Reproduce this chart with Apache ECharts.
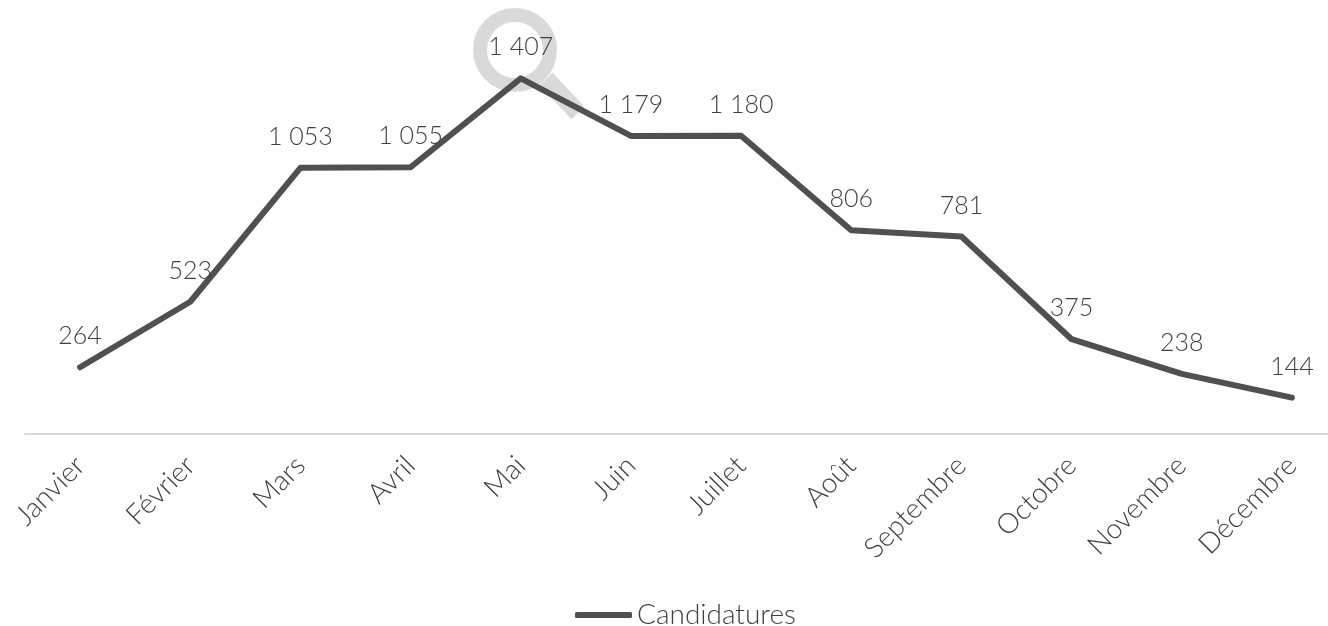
<!DOCTYPE html>
<html>
<head>
<meta charset="utf-8">
<style>
  html, body { margin: 0; padding: 0; background: #fff; overflow: hidden; width: 1328px; height: 626px; }
  #chart { width: 1347px; height: 626px; }
</style>
<script src="https://cdn.jsdelivr.net/npm/echarts@6/dist/echarts.min.js"></script>
</head>
<body>
<div id="chart"></div>
<script>
const months = ['Janvier', 'Février', 'Mars', 'Avril', 'Mai', 'Juin', 'Juillet', 'Août', 'Septembre', 'Octobre', 'Novembre', 'Décembre']
const candidatures = [264, 523, 1053, 1055, 1407, 1179, 1180, 806, 781, 375, 238, 144]

const textColor = '#404040'
const fontName = 'Lato'

const chart = echarts.init(document.getElementById('chart'), null, { renderer: 'canvas' })

chart.setOption({
  animation: false,
  backgroundColor: '#ffffff',
  grid: { left: 25, top: 29.5, right: 0, bottom: 192, containLabel: false },
  legend: {
    show: true,
    left: 570,
    top: 596,
    itemWidth: 57,
    itemHeight: 6,
    itemGap: 2,
    icon: 'roundRect',
    textStyle: { color: textColor, fontFamily: fontName, fontWeight: 300, fontSize: 28 }
  },
  xAxis: {
    type: 'category',
    data: months,
    axisTick: { show: false },
    axisLine: { lineStyle: { color: '#d9d9d9', width: 2 } },
    axisLabel: { rotate: 45, interval: 0, color: textColor, fontFamily: fontName, fontWeight: 300, fontSize: 28, margin: 27 }
  },
  yAxis: {
    type: 'value',
    min: 0,
    max: 1600,
    show: false
  },
  graphic: [
    // loupe behind the peak
    {
      type: 'line', z: 0, silent: true,
      shape: { x1: 546, y1: 79, x2: 578, y2: 113 },
      style: { stroke: '#d9d9d9', lineWidth: 18 }
    },
    {
      type: 'circle', z: 0, silent: true,
      shape: { cx: 515, cy: 50, r: 35 },
      style: { fill: '#ffffff', stroke: '#d9d9d9', lineWidth: 14 }
    }
  ],
  series: [
    {
      name: 'Candidatures',
      type: 'line',
      data: candidatures,
      z: 5,
      showSymbol: true,
      symbol: 'circle',
      symbolSize: 1,
      lineStyle: { color: '#505050', width: 6, cap: 'round', join: 'round' },
      itemStyle: { color: '#505050' },
      labelLayout: { hideOverlap: false },
      label: {
        show: true,
        position: 'top',
        distance: 18,
        color: textColor,
        fontFamily: fontName,
        fontWeight: 300,
        fontSize: 25,
        formatter: function(params) {
          return String(params.value).replace(/\B(?=(\d{3})+$)/g, ' ')
        }
      }
    }
  ]
})
</script>
</body>
</html>
